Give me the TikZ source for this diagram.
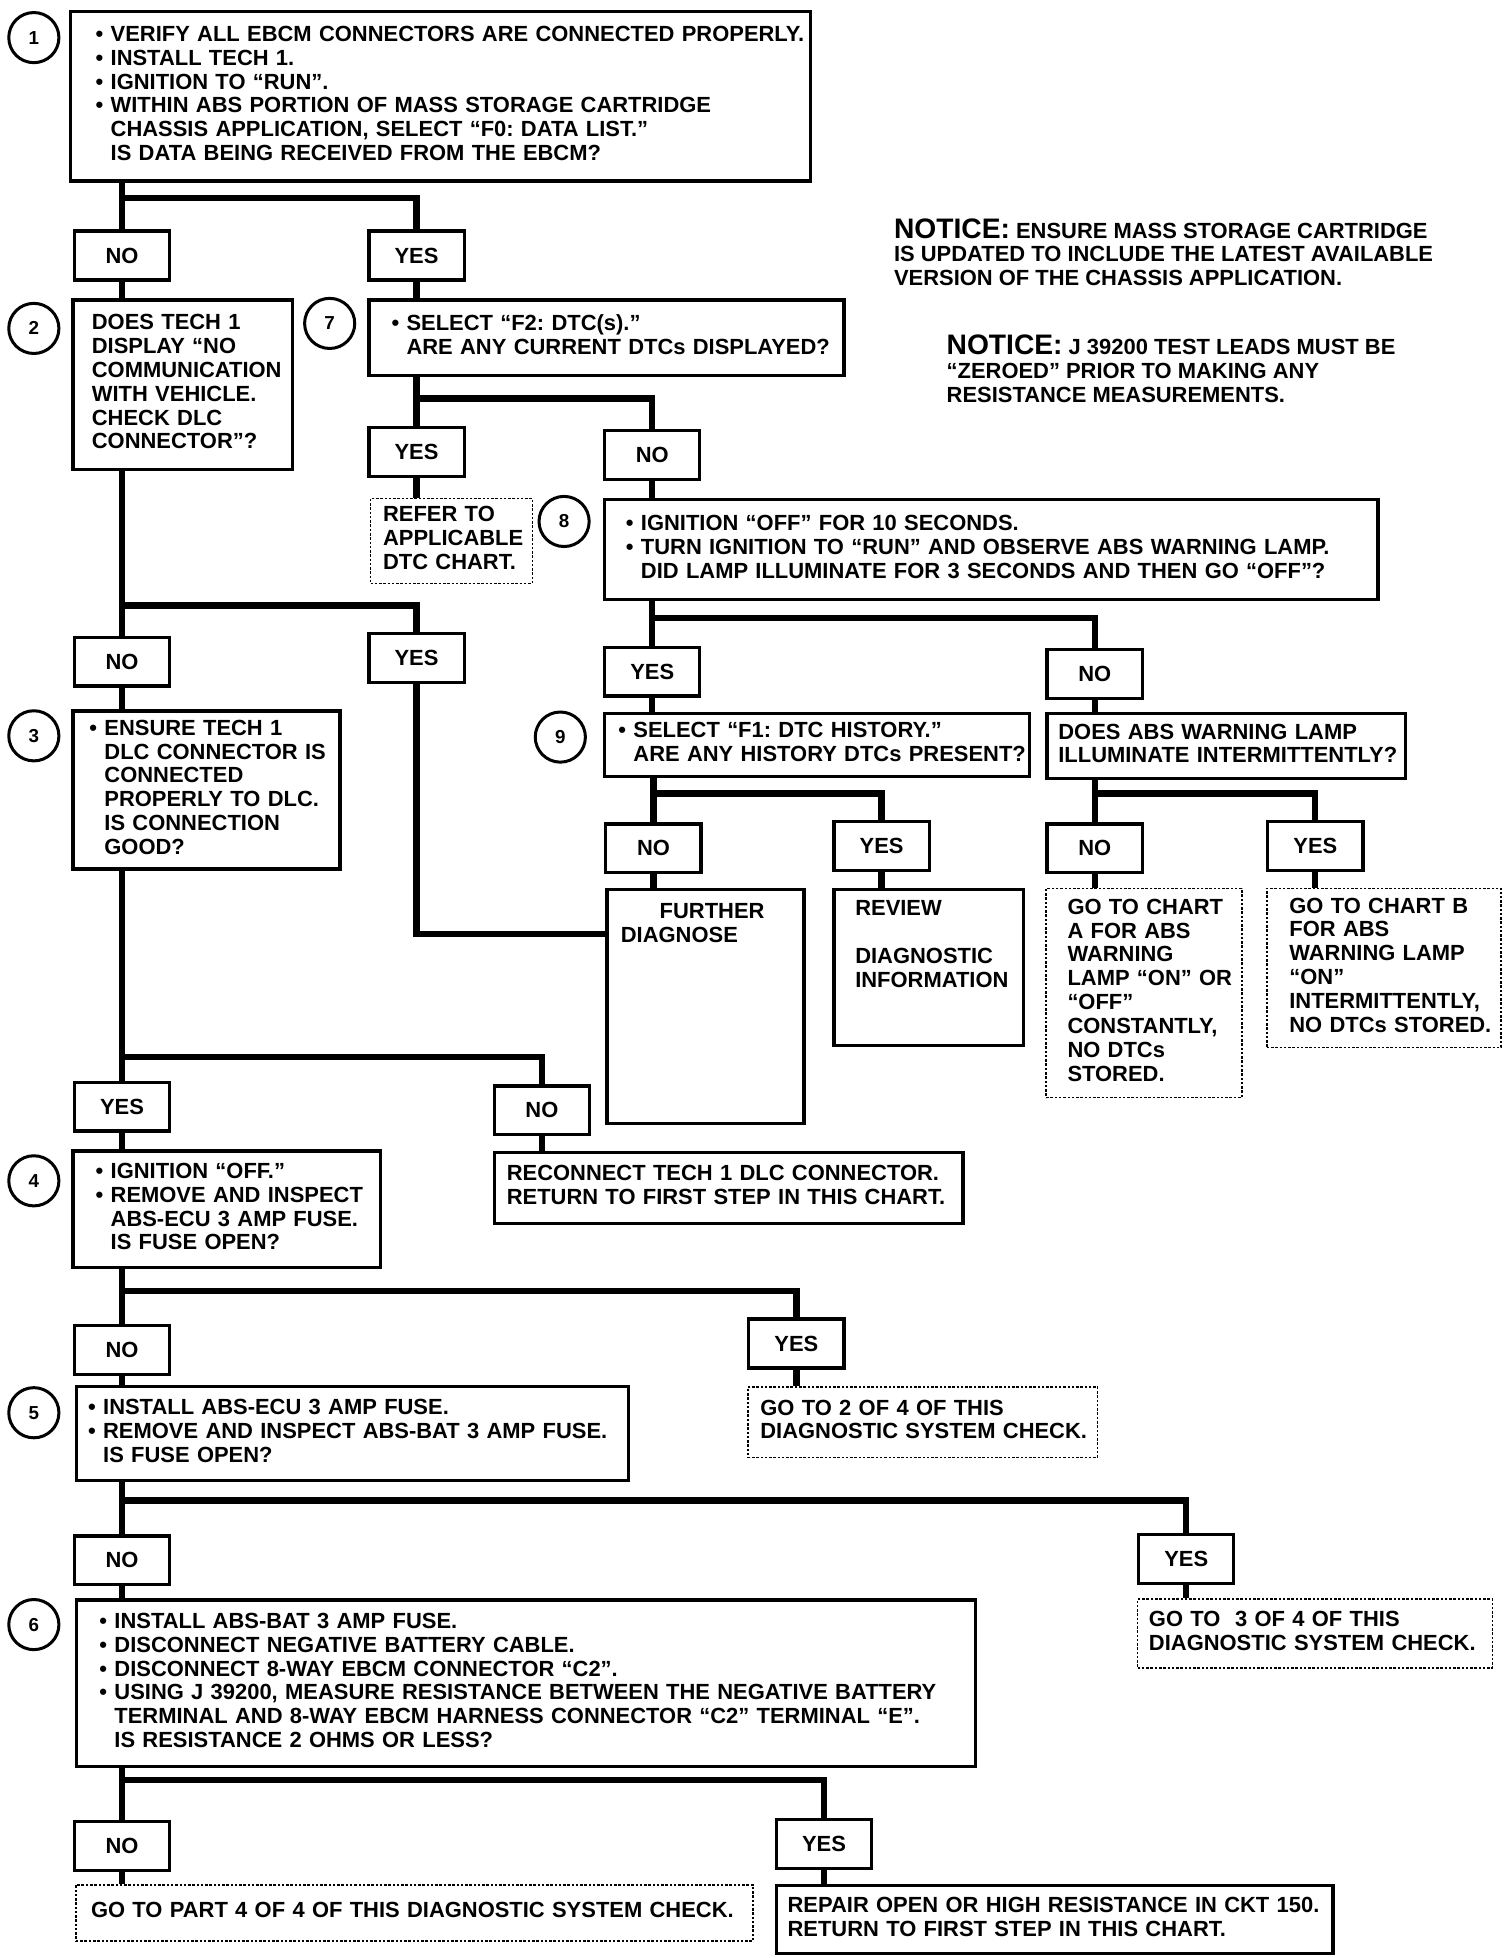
\documentclass[tikz,border=0pt]{standalone}
\usepackage{fontspec}
\usepackage{tikz}
\setmainfont{Liberation Sans}
\frenchspacing
\newcommand{\boxfont}{\fontsize{17.5}{19}\selectfont\bfseries}
\newcommand{\numfont}{\fontsize{15}{16}\selectfont\bfseries}
\newcommand{\noticefont}{\fontsize{22.5}{24}\selectfont\bfseries}
\newcommand{\steplines}[1]{\begin{tabular}{@{}l@{}}#1\end{tabular}}
\newcommand{\dotitem}{\llap{\textbullet\ }}

\begin{document}
\begin{tikzpicture}[x={(1pt,0)}, y={(0,-1pt)},
  stepbox/.style={draw, line width=2.6pt, anchor=north west, inner ysep=2pt, font=\boxfont},
  endbox/.style={stepbox, line width=1.2pt, dash pattern=on 2pt off 1.4pt},
  answer/.style={draw, line width=2.6pt, anchor=north west, inner sep=0pt, minimum width=76pt, minimum height=39pt, font=\boxfont},
  stepnum/.style={draw, circle, line width=2.4pt, minimum size=40pt, inner sep=0pt, font=\numfont},
  notice/.style={anchor=north west, align=left, inner sep=0pt, font=\boxfont},
  flow/.style={line width=5pt}]
\useasboundingbox (0,0) rectangle (1200,1562);

% step numbers
\node[stepnum] (c1) at (27,30) {1};
\node[stepnum] (c2) at (27,262) {2};
\node[stepnum] (c3) at (27,587) {3};
\node[stepnum] (c4) at (27,942) {4};
\node[stepnum] (c5) at (27,1127) {5};
\node[stepnum] (c6) at (27,1296) {6};
\node[stepnum] (c7) at (263,258) {7};
\node[stepnum] (c8) at (450,416) {8};
\node[stepnum] (c9) at (447,588) {9};

% steps
\node[stepbox, text width=526pt, inner xsep=32pt, minimum height=135pt] (b1) at (55,8)
{\steplines{\dotitem VERIFY ALL EBCM CONNECTORS ARE CONNECTED PROPERLY.\\
\dotitem INSTALL TECH 1.\\
\dotitem IGNITION TO “RUN”.\\
\dotitem WITHIN ABS PORTION OF MASS STORAGE CARTRIDGE\\
CHASSIS APPLICATION, SELECT “F0: DATA LIST.”\\
IS DATA BEING RECEIVED FROM THE EBCM?}};
\node[stepbox, text width=145pt, inner xsep=15pt, minimum height=135pt] (b2) at (57,238)
{\steplines{DOES TECH 1\\DISPLAY “NO\\COMMUNICATION\\WITH VEHICLE.\\CHECK DLC\\CONNECTOR”?}};
\node[stepbox, text width=319pt, inner xsep=30pt, minimum height=60pt] (b7) at (293,238)
{\steplines{\dotitem SELECT “F2: DTC(s).”\\ARE ANY CURRENT DTCs DISPLAYED?}};
\node[endbox, text width=109pt, inner xsep=10pt, minimum height=68pt] (ref) at (295,397)
{\steplines{REFER TO\\APPLICABLE\\DTC CHART.}};
\node[stepbox, text width=559pt, inner xsep=29pt, minimum height=80pt] (b8) at (481,397)
{\steplines{\dotitem IGNITION “OFF” FOR 10 SECONDS.\\
\dotitem TURN IGNITION TO “RUN” AND OBSERVE ABS WARNING LAMP.\\
DID LAMP ILLUMINATE FOR 3 SECONDS AND THEN GO “OFF”?}};
\node[stepbox, text width=293pt, inner xsep=23pt, minimum height=50pt] (b9) at (481,568)
{\steplines{\dotitem SELECT “F1: DTC HISTORY.”\\ARE ANY HISTORY DTCs PRESENT?}};
\node[stepbox, text width=268pt, inner xsep=9pt, minimum height=52pt] (bl) at (834,568)
{\steplines{DOES ABS WARNING LAMP\\ILLUMINATE INTERMITTENTLY?}};
\node[stepbox, text width=135pt, inner xsep=11pt, minimum height=187pt] (fd) at (483,708)
{\steplines{\hspace*{31pt}FURTHER\\DIAGNOSE\\[129pt]}};
\node[stepbox, text width=117pt, inner xsep=17pt, minimum height=125pt] (rev) at (664,708)
{\steplines{REVIEW\\ \\DIAGNOSTIC\\INFORMATION\\[33pt]}};
\node[endbox, text width=122pt, inner xsep=17pt, minimum height=167pt] (ca) at (834,708)
{\steplines{GO TO CHART\\A FOR ABS\\WARNING\\LAMP “ON” OR\\“OFF”\\CONSTANTLY,\\NO DTCs\\STORED.}};
\node[endbox, text width=151pt, inner xsep=18pt, minimum height=127pt] (cb) at (1010,708)
{\steplines{GO TO CHART B\\FOR ABS\\WARNING LAMP\\“ON”\\INTERMITTENTLY,\\NO DTCs STORED.}};
\node[stepbox, text width=163pt, inner xsep=25pt, minimum height=126pt] (b3) at (57,566)
{\steplines{\dotitem ENSURE TECH 1\\DLC CONNECTOR IS\\CONNECTED\\PROPERLY TO DLC.\\IS CONNECTION\\GOOD?}};
\node[stepbox, text width=185pt, inner xsep=30pt, minimum height=93pt] (b4) at (57,917)
{\steplines{\dotitem IGNITION “OFF.”\\\dotitem REMOVE AND INSPECT\\ABS-ECU 3 AMP FUSE.\\IS FUSE OPEN?}};
\node[stepbox, text width=354pt, inner xsep=10pt, minimum height=57pt] (rc) at (393,918)
{\steplines{RECONNECT TECH 1 DLC CONNECTOR.\\RETURN TO FIRST STEP IN THIS CHART.}};
\node[stepbox, text width=398pt, inner xsep=21pt, minimum height=75pt] (b5) at (60,1105)
{\steplines{\dotitem INSTALL ABS-ECU 3 AMP FUSE.\\\dotitem REMOVE AND INSPECT ABS-BAT 3 AMP FUSE.\\IS FUSE OPEN?}};
\node[endbox, text width=259pt, inner xsep=10pt, minimum height=56pt] (g2) at (596,1106)
{\steplines{GO TO 2 OF 4 OF THIS\\DIAGNOSTIC SYSTEM CHECK.}};
\node[stepbox, text width=657pt, inner xsep=30pt, minimum height=133pt] (b6) at (60,1275)
{\steplines{\dotitem INSTALL ABS-BAT 3 AMP FUSE.\\
\dotitem DISCONNECT NEGATIVE BATTERY CABLE.\\
\dotitem DISCONNECT 8-WAY EBCM CONNECTOR “C2”.\\
\dotitem USING J 39200, MEASURE RESISTANCE BETWEEN THE NEGATIVE BATTERY\\
TERMINAL AND 8-WAY EBCM HARNESS CONNECTOR “C2” TERMINAL “E”.\\
IS RESISTANCE 2 OHMS OR LESS?}};
\node[endbox, text width=265pt, inner xsep=9pt, minimum height=55pt] (g3) at (907,1275)
{\steplines{GO TO\ \ 3 OF 4 OF THIS\\DIAGNOSTIC SYSTEM CHECK.}};
\node[endbox, text width=516pt, inner xsep=12pt, minimum height=45pt] (p4) at (60,1503)
{\steplines{GO TO PART 4 OF 4 OF THIS DIAGNOSTIC SYSTEM CHECK.}};
\node[stepbox, text width=426pt, inner xsep=9pt, minimum height=54pt] (rp) at (618,1503)
{\steplines{REPAIR OPEN OR HIGH RESISTANCE IN CKT 150.\\RETURN TO FIRST STEP IN THIS CHART.}};

% answers
\node[answer] (n1) at (58,183) {NO};
\node[answer] (y1) at (293,183) {YES};
\node[answer] (y7) at (293,340) {YES};
\node[answer] (n7) at (481,342) {NO};
\node[answer] (y8) at (481,515) {YES};
\node[answer] (n8) at (834,517) {NO};
\node[answer] (n9) at (482,656) {NO};
\node[answer] (y9) at (664,654) {YES};
\node[answer] (nl) at (834,656) {NO};
\node[answer] (yl) at (1010,654) {YES};
\node[answer] (n2) at (58,507) {NO};
\node[answer] (y2) at (293,504) {YES};
\node[answer] (y3) at (58,862) {YES};
\node[answer] (n3) at (393,865) {NO};
\node[answer] (n4) at (58,1056) {NO};
\node[answer] (y4) at (596,1051) {YES};
\node[answer] (n5) at (58,1224) {NO};
\node[answer] (y5) at (907,1223) {YES};
\node[answer] (n6) at (58,1452) {NO};
\node[answer] (y6) at (618,1450) {YES};

% branch levels
\coordinate (j1) at (0,158);
\coordinate (j7) at (0,318);
\coordinate (j8) at (0,493);
\coordinate (j9) at (0,633);
\coordinate (j2) at (0,483);
\coordinate (k2) at (0,745);
\coordinate (j3) at (0,843);
\coordinate (j4) at (0,1030);
\coordinate (j5) at (0,1197);
\coordinate (j6) at (0,1420);

% step 1
\draw[flow] (b1.south -| n1) -- (n1.north);
\draw[flow] (n1 |- j1) -| (y1.north);
\draw[flow] (n1.south) -- (n1.south |- b2.north);
\draw[flow] (y1.south) -- (y1.south |- b7.north);
% step 7
\draw[flow] (b7.south -| y7) -- (y7.north);
\draw[flow] (y7 |- j7) -| (n7.north);
\draw[flow] (y7.south) -- (y7.south |- ref.north);
\draw[flow] (n7.south) -- (n7.south |- b8.north);
% step 8
\draw[flow] (b8.south -| y8) -- (y8.north);
\draw[flow] (y8 |- j8) -| (n8.north);
\draw[flow] (y8.south) -- (y8.south |- b9.north);
\draw[flow] (n8.south) -- (n8.south |- bl.north);
% step 9 and lamp question
\draw[flow] (b9.south -| n9) -- (n9.north);
\draw[flow] (n9 |- j9) -| (y9.north);
\draw[flow] (n9.south) -- (n9.south |- fd.north);
\draw[flow] (y9.south) -- (y9.south |- rev.north);
\draw[flow] (bl.south -| nl) -- (nl.north);
\draw[flow] (nl |- j9) -| (yl.north);
\draw[flow] (nl.south) -- (nl.south |- ca.north);
\draw[flow] (yl.south) -- (yl.south |- cb.north);
% step 2
\draw[flow] (b2.south -| n2) -- (n2.north);
\draw[flow] (n2 |- j2) -| (y2.north);
\draw[flow] (n2.south) -- (n2.south |- b3.north);
\draw[flow] (y2.south) |- (fd.west |- k2);
% step 3
\draw[flow] (b3.south -| y3) -- (y3.north);
\draw[flow] (y3 |- j3) -| (n3.north);
\draw[flow] (y3.south) -- (y3.south |- b4.north);
\draw[flow] (n3.south) -- (n3.south |- rc.north);
% step 4
\draw[flow] (b4.south -| n4) -- (n4.north);
\draw[flow] (n4 |- j4) -| (y4.north);
\draw[flow] (n4.south) -- (n4.south |- b5.north);
\draw[flow] (y4.south) -- (y4.south |- g2.north);
% step 5
\draw[flow] (b5.south -| n5) -- (n5.north);
\draw[flow] (n5 |- j5) -| (y5.north);
\draw[flow] (n5.south) -- (n5.south |- b6.north);
\draw[flow] (y5.south) -- (y5.south |- g3.north);
% step 6
\draw[flow] (b6.south -| n6) -- (n6.north);
\draw[flow] (n6 |- j6) -| (y6.north);
\draw[flow] (n6.south) -- (n6.south |- p4.north);
\draw[flow] (y6.south) -- (y6.south |- rp.north);

% notices
\node[notice] (nt1) at (713,174) {{\noticefont NOTICE:} ENSURE MASS STORAGE CARTRIDGE\\
IS UPDATED TO INCLUDE THE LATEST AVAILABLE\\VERSION OF THE CHASSIS APPLICATION.};
\node[notice] (nt2) at (755,267) {{\noticefont NOTICE:} J 39200 TEST LEADS MUST BE\\
“ZEROED” PRIOR TO MAKING ANY\\RESISTANCE MEASUREMENTS.};
\end{tikzpicture}
\end{document}
